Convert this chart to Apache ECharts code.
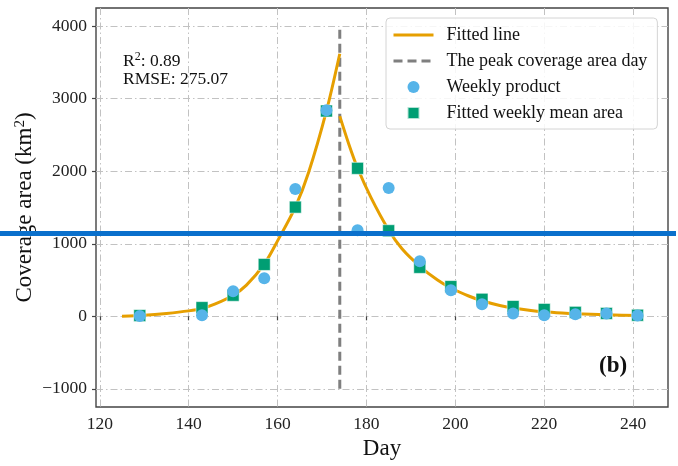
<!DOCTYPE html>
<html>
<head>
<meta charset="utf-8">
<script src="https://cdn.jsdelivr.net/npm/echarts@6/dist/echarts.min.js"></script>
<style>html,body{margin:0;padding:0;background:#fff;}#c{width:678px;height:466px;}</style>
</head>
<body>
<div id="c"></div>
<script>
const days = [129,143,150,157,164,171,178,185,192,199,206,213,220,227,234,241];
const weeklyProduct = [5,15,345,525,1755,2840,1185,1770,760,360,165,40,15,28,40,12];
const fittedWeeklyMean = [10,120,290,715,1505,2830,2040,1180,675,410,235,135,95,55,40,15];
const fitRiseDays = [125,130,135,140,143,146,150,153,157,160,164,167,171,174];
const fitRiseValues = [2,15,40,75,108,170,290,430,718,1040,1506,1985,2831,3620];
const fitDecayDays = [174,176,178,181,185,188,192,196,199,203,206,210,213,217,220,224,227,234,242];
const fitDecayValues = [2760,2380,2044,1640,1190,930,690,500,390,280,215,150,115,80,62,45,35,20,10];
const peakDay = 174;
const peakLineRange = [-1000, 4000];
const xTicks = [120,140,160,180,200,220,240];
const yTicks = [-1000,0,1000,2000,3000,4000];

const FONT = 'Liberation Serif';
const zip = (a, b) => a.map((v, i) => [v, b[i]]);
const gridLine = {show: true, lineStyle: {color: '#c2c2c2', width: 1, type: [7,3,1.5,3]}};
const hiddenSymbol = {opacity: 0, borderWidth: 0};

const chart = echarts.init(document.getElementById('c'), null, {renderer: 'canvas'});
chart.setOption({
  animation: false,
  backgroundColor: '#fff',
  textStyle: {fontFamily: FONT},
  grid: {left: 96, right: 10, top: 8, bottom: 59, show: true, borderColor: '#444', borderWidth: 1.4, backgroundColor: 'transparent'},
  xAxis: {
    type: 'value', min: 119.15, max: 247.85,
    name: 'Day', nameLocation: 'middle', nameGap: 30, nameMoveOverlap: false,
    nameTextStyle: {fontFamily: FONT, fontSize: 23, color: '#111'},
    axisLine: {show: false},
    axisTick: {show: true, inside: false, length: 4, lineStyle: {color: '#444', width: 1.2}, customValues: xTicks},
    axisLabel: {fontFamily: FONT, fontSize: 17.5, color: '#222', margin: 8, customValues: xTicks},
    splitLine: gridLine
  },
  yAxis: {
    type: 'value', min: -1250, max: 4250,
    name: 'Coverage area (km{s|2})', nameLocation: 'middle', nameGap: 60, nameRotate: 90, nameMoveOverlap: false,
    nameTextStyle: {fontFamily: FONT, fontSize: 23, color: '#111',
      rich: {s: {fontFamily: FONT, fontSize: 15, color: '#111', verticalAlign: 'top', lineHeight: 23}}},
    axisLine: {show: false},
    axisTick: {show: true, inside: false, length: 4, lineStyle: {color: '#444', width: 1.2}, customValues: yTicks},
    axisLabel: {fontFamily: FONT, fontSize: 17.5, color: '#222', margin: 9, customValues: yTicks,
      formatter: v => String(v).replace('-', '\u2212')},
    splitLine: gridLine
  },
  legend: {
    orient: 'vertical', left: 386, top: 18,
    padding: [8, 10, 7, 6], itemGap: 8, itemWidth: 40, itemHeight: 12,
    backgroundColor: 'rgba(255,255,255,0.85)', borderColor: '#d4d4d4', borderWidth: 1, borderRadius: 4,
    textStyle: {fontFamily: FONT, fontSize: 18, color: '#111', padding: [0,0,0,8]},
    data: [
      {name: 'Fitted line', itemStyle: hiddenSymbol, lineStyle: {width: 3}},
      {name: 'The peak coverage area day', itemStyle: hiddenSymbol, lineStyle: {width: 3}},
      {name: 'Weekly product', icon: 'circle'},
      {name: 'Fitted weekly mean area', icon: 'path://M0 0H10V10H0Z'}
    ]
  },
  series: [
    {name: 'Fitted line', type: 'line', data: zip(fitRiseDays, fitRiseValues), smooth: 0.3, symbol: 'none',
     lineStyle: {color: '#E69F00', width: 3}, itemStyle: {color: '#E69F00'}, z: 3},
    {name: 'Fitted line', type: 'line', data: zip(fitDecayDays, fitDecayValues), smooth: 0.3, symbol: 'none',
     lineStyle: {color: '#E69F00', width: 3}, itemStyle: {color: '#E69F00'}, z: 3},
    {name: 'The peak coverage area day', type: 'line', data: [[peakDay, peakLineRange[0]], [peakDay, peakLineRange[1]]],
     symbol: 'none', lineStyle: {color: '#7f7f7f', width: 3, type: [9,5]}, itemStyle: {color: '#7f7f7f'}, z: 2},
    {name: 'Fitted weekly mean area', type: 'scatter', data: zip(days, fittedWeeklyMean), symbol: 'rect', symbolSize: 12,
     itemStyle: {color: '#009E73', borderColor: 'rgba(255,255,255,0.7)', borderWidth: 0.8, opacity: 1}, z: 4},
    {name: 'Weekly product', type: 'scatter', data: zip(days, weeklyProduct), symbol: 'circle', symbolSize: 12,
     itemStyle: {color: '#56B4E9', opacity: 1}, z: 5}
  ],
  graphic: [
    {type: 'text', left: 123, top: 51, z: 10,
     style: {text: '{n|R}{s|2}{n|: 0.89}', fontFamily: FONT,
       rich: {n: {fontFamily: FONT, fontSize: 17.5, fill: '#111', lineHeight: 20},
              s: {fontFamily: FONT, fontSize: 12, fill: '#111', verticalAlign: 'top', lineHeight: 20}}}},
    {type: 'text', left: 123, top: 70, z: 10,
     style: {text: 'RMSE: 275.07', fontFamily: FONT, fontSize: 17.5, fill: '#111'}},
    {type: 'text', left: 599, top: 355, z: 10,
     style: {text: '(b)', fontFamily: FONT, fontSize: 23, fontWeight: 'bold', fill: '#111'}},
    {type: 'rect', left: 0, top: 231, z: 100,
     shape: {width: 676, height: 5}, style: {fill: '#0A70CC'}}
  ]
});
</script>
</body>
</html>
